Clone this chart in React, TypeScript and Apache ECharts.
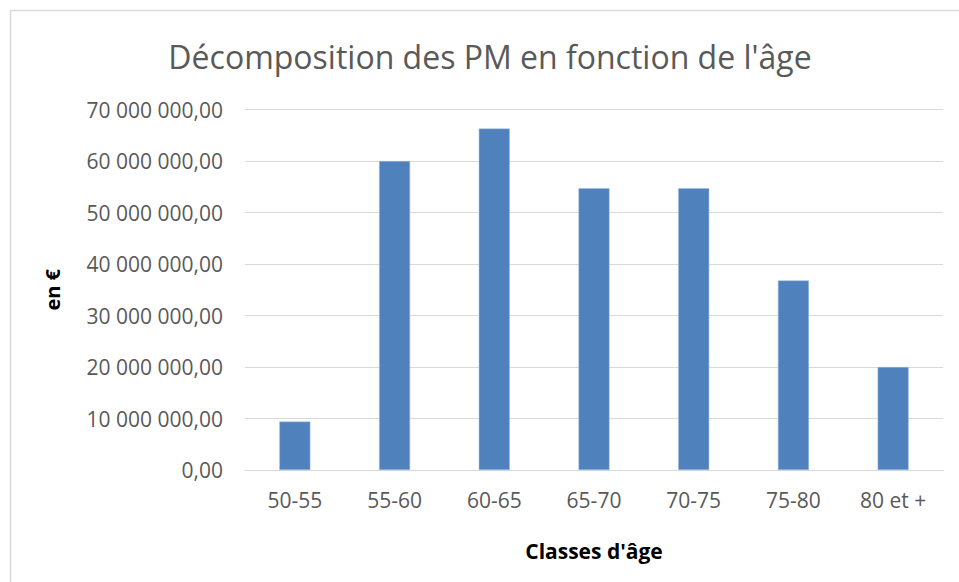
import React, { useEffect, useRef } from "react";
import * as echarts from "echarts";

const categories = ["50-55", "55-60", "60-65", "65-70", "70-75", "75-80", "80 et +"];
const values = [9400000, 60000000, 66300000, 54700000, 54700000, 36800000, 20000000];
const yTicks = [0, 10000000, 20000000, 30000000, 40000000, 50000000, 60000000, 70000000];

const titleText = "Décomposition des PM en fonction de l'âge";
const yName = "en €";
const xName = "Classes d'âge";

const FONT = "'Open Sans', sans-serif";

function fmt(v: number): string {
  const s = Math.round(v).toString().replace(/\B(?=(\d{3})+(?!\d))/g, " ");
  return s + ",00";
}

export default function App() {
  const ref = useRef<HTMLDivElement>(null);
  useEffect(() => {
    if (!ref.current) return;
    const chart = echarts.init(ref.current, null, { renderer: "svg" });
    chart.setOption({
      animation: false,
      backgroundColor: "#ffffff",
      graphic: [
        {
          type: "rect",
          shape: { x: 10.5, y: 10.5, width: 1000, height: 700 },
          style: { fill: "none", stroke: "#d9d9d9", lineWidth: 1.5 },
          silent: true,
        },
        {
          type: "text",
          x: 490,
          y: 56,
          style: {
            text: titleText,
            fontFamily: FONT,
            fontSize: 32,
            fontWeight: "normal",
            fill: "#595959",
            textAlign: "center",
            textVerticalAlign: "middle",
          },
          silent: true,
        },
      ],
      grid: { left: 245, right: 16, top: 109.5, bottom: 112, containLabel: false },
      xAxis: {
        type: "category",
        data: categories,
        name: xName,
        nameLocation: "middle",
        nameGap: 70,
        nameTextStyle: { fontFamily: FONT, fontSize: 21, fontWeight: "bold", color: "#000000" },
        axisLine: { show: true, lineStyle: { color: "#d9d9d9", width: 1 } },
        axisTick: { show: false },
        axisLabel: { fontFamily: FONT, fontSize: 21, color: "#595959", margin: 19 },
      },
      yAxis: {
        type: "value",
        min: yTicks[0],
        max: yTicks[yTicks.length - 1],
        interval: yTicks[1] - yTicks[0],
        name: yName,
        nameLocation: "middle",
        nameGap: 183,
        nameRotate: 90,
        nameTextStyle: { fontFamily: FONT, fontSize: 20, fontWeight: "bold", color: "#000000" },
        axisLine: { show: false },
        axisTick: { show: false },
        splitLine: { lineStyle: { color: "#d9d9d9", width: 1 } },
        axisLabel: { fontFamily: FONT, fontSize: 21, color: "#595959", margin: 22, formatter: (v: number) => fmt(v) },
      },
      series: [
        {
          type: "bar",
          data: values,
          barWidth: 31,
          itemStyle: { color: "#4f81bd", borderColor: "#a7bfde", borderWidth: 0.5 },
        },
      ],
    });
    return () => chart.dispose();
  }, []);
  return <div ref={ref} style={{ position: "fixed", left: 0, top: 0, width: 959, height: 582 }} />;
}
